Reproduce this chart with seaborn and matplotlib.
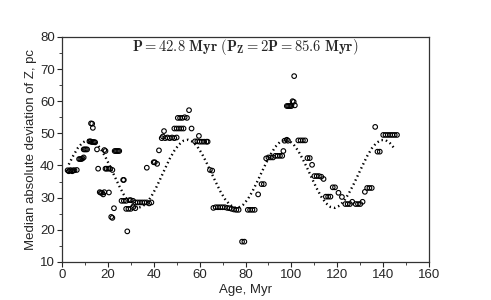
import numpy as np
import pandas as pd
import matplotlib
matplotlib.use("Agg")
import matplotlib.pyplot as plt
import seaborn as sns
from matplotlib.ticker import MultipleLocator

# median absolute deviation of Z (open circles)
age = [2.5, 3, 3.5, 4, 4.5, 5, 5.5, 6.5,
       7.5, 8, 8.5, 9, 9.5,
       9.5, 10, 10.5, 11,
       12, 12.5, 13, 13.5, 14, 14.5,
       12.7, 13.2, 13.5,
       15.3, 15.8,
       16.5, 17, 17.5, 18, 18.5, 20.5,
       19, 19.5, 20.3, 21, 22,
       18.5, 19,
       21.5, 22, 22.7,
       23, 23.5, 24, 24.5, 25,
       26.7, 27,
       26, 27, 28,
       28, 29, 30, 31, 32,
       28.5,
       29.5, 30, 31, 32, 33, 34, 35, 36, 37, 38, 39,
       37,
       40, 40.5, 41.5,
       42.3,
       43.5, 44, 44.5, 45, 46, 47, 48, 49, 50,
       49, 50, 51, 52, 53,
       50.5, 51.5, 52.5, 53.5, 54.5,
       55.4, 56.5,
       58, 59, 60, 61, 62, 63, 63.5,
       59.7,
       64.5, 65.5,
       66, 67, 68, 69, 70, 71, 72, 73, 74, 75, 76, 77,
       78.5, 79.5,
       81, 82, 83, 84,
       85.5, 87, 88,
       89, 90, 91, 92, 93, 94, 95, 96,
       96.5, 97, 98, 98.5,
       98, 98.5, 99, 99.5, 100, 100.5, 101, 101.5,
       101.2,
       103, 104, 105, 106,
       107, 108, 109,
       110, 111, 112, 113, 114,
       115, 116, 117,
       118, 119, 120.5, 122,
       123.5, 124.5, 125.5, 126.5,
       128, 129, 130, 131, 132,
       133, 134, 135,
       136.5, 137.5, 138.5,
       140, 141, 142, 143, 144, 145, 146]
mad_z = [38.5, 38.2, 38.5, 38.5, 38.2, 38.5, 38.5, 38.6,
         42.0, 42.0, 42.0, 42.2, 42.5,
         45.0, 45.0, 45.0, 45.0,
         47.5, 47.5, 47.3, 47.3, 47.3, 47.2,
         53.1, 53.0, 51.7,
         45.0, 39.0,
         31.7, 31.5, 31.5, 31.0, 31.7, 31.6,
         39.0, 39.0, 39.0, 39.0, 38.6,
         44.8, 44.5,
         24.0, 23.7, 26.7,
         44.5, 44.5, 44.5, 44.5, 44.5,
         35.5, 35.5,
         29.0, 29.0, 29.0,
         26.5, 26.5, 26.5, 27.0, 26.7,
         19.5,
         29.2, 29.2, 29.0, 28.5, 28.5, 28.5, 28.5, 28.5, 28.5, 28.2, 28.5,
         39.3,
         41.0, 41.0, 40.5,
         44.7,
         48.5, 49.0, 50.7, 48.5, 48.7, 48.5, 48.7, 48.5, 48.7,
         51.5, 51.5, 51.5, 51.5, 51.5,
         54.8, 54.8, 54.8, 55.0, 54.8,
         57.2, 51.5,
         47.5, 47.5, 47.4, 47.4, 47.4, 47.4, 47.4,
         49.2,
         38.6, 38.4,
         26.8, 27.0, 27.0, 27.0, 27.0, 27.0, 26.8, 26.7, 26.5, 26.3, 26.2, 26.2,
         16.3, 16.3,
         26.2, 26.2, 26.2, 26.2,
         31.0, 34.2, 34.2,
         42.2, 42.5, 42.5, 42.5, 43.0, 43.0, 43.0, 43.0,
         44.5, 47.7, 48.0, 47.7,
         58.5, 58.5, 58.5, 58.5, 58.5, 60.0, 59.8, 58.7,
         67.8,
         47.8, 47.8, 47.8, 47.8,
         42.3, 42.3, 40.2,
         36.7, 36.7, 36.7, 36.5, 35.8,
         30.3, 30.3, 30.3,
         33.2, 33.2, 31.5, 30.2,
         28.0, 28.0, 28.0, 28.7,
         28.0, 28.0, 28.0, 28.7, 31.8,
         33.0, 33.0, 33.0,
         52.0, 44.3, 44.3,
         49.5, 49.5, 49.5, 49.5, 49.5, 49.5, 49.5]

# dotted periodic curve, every 2 Myr
curve_age = list(range(3, 147, 2))
curve_z = [40.3, 43.1, 45.5, 47.1, 47.9, 47.8, 46.9, 45.1, 42.6, 39.7,
           36.6, 33.6, 30.9, 28.8, 27.3, 26.8, 27.2, 28.4, 30.4, 33.0,
           36.0, 39.1, 42.1, 44.6, 46.5, 47.7, 48.0, 47.4, 45.9, 43.7,
           40.9, 37.9, 34.9, 32.0, 29.6, 27.9, 26.9, 26.9, 27.8, 29.5,
           31.9, 34.8, 37.8, 40.8, 43.5, 45.8, 47.3, 48.0, 47.7, 46.5,
           44.5, 41.9, 39.0, 35.9, 32.9, 30.3, 28.3, 27.1, 26.8, 27.5,
           29.0, 31.3, 34.0, 37.0, 40.0, 42.9, 45.3, 47.0, 47.9, 47.9,
           46.9, 45.2]

title = r"$\mathbf{P = 42.8\ Myr\ (P_Z = 2P = 85.6\ Myr)}$"

sns.set_style("ticks")
plt.rcParams["font.family"] = ["Liberation Sans", "DejaVu Sans"]
plt.rcParams["mathtext.fontset"] = "cm"

df = pd.DataFrame({"age": age, "mad": mad_z})
fit = pd.DataFrame({"age": curve_age, "z": curve_z})

fig = plt.figure(figsize=(4.91, 3.0), dpi=100)
ax = fig.add_axes([0.126, 0.127, 0.748, 0.750])

sns.lineplot(data=fit, x="age", y="z", ax=ax, color="black",
             linestyle=(0, (0.6, 1.3)), linewidth=1.7)
sns.scatterplot(data=df, x="age", y="mad", ax=ax, marker="o", s=11,
                facecolor="none", edgecolor="black", linewidth=0.8)

ax.set_xlim(0, 160)
ax.set_ylim(10, 80)
ax.xaxis.set_major_locator(MultipleLocator(20))
ax.xaxis.set_minor_locator(MultipleLocator(10))
ax.yaxis.set_major_locator(MultipleLocator(10))
ax.yaxis.set_minor_locator(MultipleLocator(5))
ax.tick_params(which="major", length=3.5, width=0.8, labelsize=9.5, pad=1.5)
ax.tick_params(which="minor", length=2, width=0.6)
for sp in ax.spines.values():
    sp.set_visible(True)
    sp.set_color("#333333")
    sp.set_linewidth(0.9)

ax.set_xlabel("Age, Myr", fontsize=9.5, labelpad=2.5)
ax.set_ylabel("Median absolute deviation of Z, pc", fontsize=9.5, labelpad=2)
ax.text(0.5, 0.955, title, transform=ax.transAxes, ha="center", va="center",
        fontsize=10.5)

fig.savefig("out.png", dpi=100)
